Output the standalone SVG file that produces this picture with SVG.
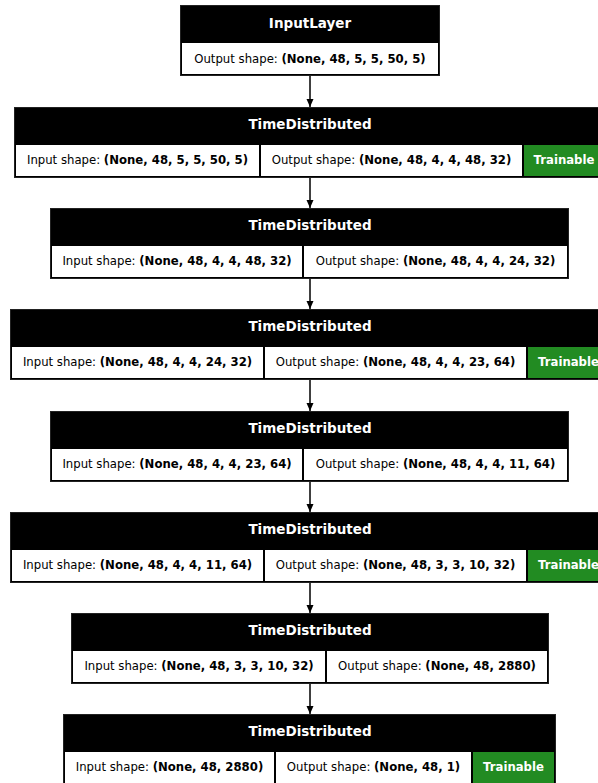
<svg xmlns="http://www.w3.org/2000/svg" width="598" height="783" viewBox="0 0 598 783">
  <style>
    .box { fill: #000000; stroke: #222222; stroke-width: 1; }
    .cell { fill: #ffffff; }
    .train { fill: #228b22; }
    .title { font-family: "DejaVu Sans", "Noto Sans", sans-serif; font-size: 13.5px; font-weight: bold; fill: #ffffff; text-anchor: middle; }
    .txt { font-family: "DejaVu Sans", "Noto Sans", sans-serif; font-size: 11.7px; fill: #000000; text-anchor: middle; }
    .txt .b { font-weight: bold; }
    .ttxt { font-family: "DejaVu Sans", "Noto Sans", sans-serif; font-size: 11.7px; font-weight: bold; fill: #ffffff; text-anchor: middle; }
    .edge { stroke: #000000; stroke-width: 1.5; fill: none; marker-end: url(#arrow); }
  </style>
  <defs>
    <marker id="arrow" markerWidth="8" markerHeight="8" refX="8" refY="4" orient="auto" markerUnits="userSpaceOnUse">
      <path d="M0,0.5 L8,4 L0,7.5 Z" fill="#000000"/>
    </marker>
  </defs>

  <g id="connectors">
    <line class="edge" x1="310" y1="76" x2="310" y2="107"/>
    <line class="edge" x1="310" y1="178" x2="310" y2="208"/>
    <line class="edge" x1="310" y1="279" x2="310" y2="309"/>
    <line class="edge" x1="310" y1="380" x2="310" y2="411"/>
    <line class="edge" x1="310" y1="482" x2="310" y2="512"/>
    <line class="edge" x1="310" y1="583" x2="310" y2="613"/>
    <line class="edge" x1="310" y1="684" x2="310" y2="714"/>
  </g>

  <!-- input layer -->
  <g id="input_layer">
    <rect class="box" x="180.5" y="5.5" width="259" height="70"/>
    <text class="title" x="310" y="28">InputLayer</text>
    <rect class="cell" x="182" y="43" width="256" height="31"/>
    <text class="txt" x="310" y="63">Output shape: <tspan class="b">(None, 48, 5, 5, 50, 5)</tspan></text>
  </g>

  <g id="time_distributed_1">
    <rect class="box" x="14.5" y="107.5" width="596" height="70"/>
    <text class="title" x="310" y="129">TimeDistributed</text>
    <rect class="cell" x="16" y="145" width="243" height="31"/>
    <text class="txt" x="137.5" y="164">Input shape: <tspan class="b">(None, 48, 5, 5, 50, 5)</tspan></text>
    <rect class="cell" x="261" y="145" width="261" height="31"/>
    <text class="txt" x="391.5" y="164">Output shape: <tspan class="b">(None, 48, 4, 4, 48, 32)</tspan></text>
    <rect class="train" x="524" y="145" width="84" height="31"/>
    <text class="ttxt" x="564" y="164">Trainable</text>
  </g>

  <g id="time_distributed_2">
    <rect class="box" x="50.5" y="208.5" width="518" height="70"/>
    <text class="title" x="310" y="230">TimeDistributed</text>
    <rect class="cell" x="52" y="246" width="250" height="31"/>
    <text class="txt" x="177" y="265">Input shape: <tspan class="b">(None, 48, 4, 4, 48, 32)</tspan></text>
    <rect class="cell" x="304" y="246" width="263" height="31"/>
    <text class="txt" x="435.5" y="265">Output shape: <tspan class="b">(None, 48, 4, 4, 24, 32)</tspan></text>
  </g>

  <g id="time_distributed_3">
    <rect class="box" x="10.5" y="309.5" width="602" height="70"/>
    <text class="title" x="310" y="331">TimeDistributed</text>
    <rect class="cell" x="12" y="347" width="251" height="31"/>
    <text class="txt" x="137.5" y="366">Input shape: <tspan class="b">(None, 48, 4, 4, 24, 32)</tspan></text>
    <rect class="cell" x="265" y="347" width="261" height="31"/>
    <text class="txt" x="395.5" y="366">Output shape: <tspan class="b">(None, 48, 4, 4, 23, 64)</tspan></text>
    <rect class="train" x="528" y="347" width="84" height="31"/>
    <text class="ttxt" x="568.5" y="366">Trainable</text>
  </g>

  <g id="time_distributed_4">
    <rect class="box" x="50.5" y="411.5" width="518" height="70"/>
    <text class="title" x="310" y="433">TimeDistributed</text>
    <rect class="cell" x="52" y="449" width="250" height="31"/>
    <text class="txt" x="177" y="468">Input shape: <tspan class="b">(None, 48, 4, 4, 23, 64)</tspan></text>
    <rect class="cell" x="304" y="449" width="263" height="31"/>
    <text class="txt" x="435.5" y="468">Output shape: <tspan class="b">(None, 48, 4, 4, 11, 64)</tspan></text>
  </g>

  <g id="time_distributed_5">
    <rect class="box" x="10.5" y="512.5" width="602" height="70"/>
    <text class="title" x="310" y="534">TimeDistributed</text>
    <rect class="cell" x="12" y="550" width="251" height="31"/>
    <text class="txt" x="137.5" y="569">Input shape: <tspan class="b">(None, 48, 4, 4, 11, 64)</tspan></text>
    <rect class="cell" x="265" y="550" width="261" height="31"/>
    <text class="txt" x="395.5" y="569">Output shape: <tspan class="b">(None, 48, 3, 3, 10, 32)</tspan></text>
    <rect class="train" x="528" y="550" width="84" height="31"/>
    <text class="ttxt" x="568.5" y="569">Trainable</text>
  </g>

  <g id="time_distributed_6">
    <rect class="box" x="71.5" y="613.5" width="477" height="70"/>
    <text class="title" x="310" y="635">TimeDistributed</text>
    <rect class="cell" x="73" y="651" width="252" height="31"/>
    <text class="txt" x="199" y="670">Input shape: <tspan class="b">(None, 48, 3, 3, 10, 32)</tspan></text>
    <rect class="cell" x="327" y="651" width="220" height="31"/>
    <text class="txt" x="437" y="670">Output shape: <tspan class="b">(None, 48, 2880)</tspan></text>
  </g>

  <g id="time_distributed_7">
    <rect class="box" x="63.5" y="714.5" width="492" height="70"/>
    <text class="title" x="310" y="736">TimeDistributed</text>
    <rect class="cell" x="65" y="752" width="209" height="31"/>
    <text class="txt" x="169.5" y="771">Input shape: <tspan class="b">(None, 48, 2880)</tspan></text>
    <rect class="cell" x="276" y="752" width="195" height="31"/>
    <text class="txt" x="373.5" y="771">Output shape: <tspan class="b">(None, 48, 1)</tspan></text>
    <rect class="train" x="473" y="752" width="81" height="31"/>
    <text class="ttxt" x="513.5" y="771">Trainable</text>
  </g>
</svg>
